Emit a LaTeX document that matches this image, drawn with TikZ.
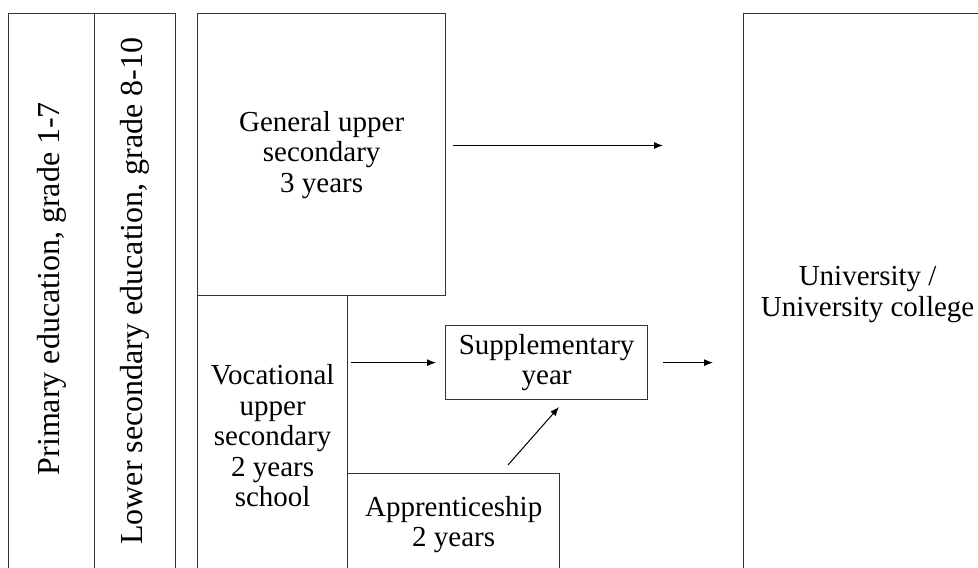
\documentclass[tikz,border=0pt]{standalone}
\usepackage{fontspec}
\setmainfont{Liberation Serif}
\usetikzlibrary{arrows.meta}
\tikzset{
  box/.style={draw=black!80, line width=1.3pt, rectangle, inner sep=0pt, anchor=north west, align=center,
    font=\fontsize{29}{30.5}\selectfont, text=black},
  rottext/.style={rotate=90, font=\fontsize{32}{34}\selectfont, text=black},
  conn/.style={draw=black, line width=1pt, -{Latex[length=9pt,width=7pt]}},
}
\begin{document}
\begin{tikzpicture}[x=1pt,y=-1pt]
\useasboundingbox (0,0) rectangle (978,568);
\clip (0,0) rectangle (978,568);
\fill[white] (0,0) rectangle (978,568);
% left columns
\node[box, minimum width=86pt, minimum height=562pt] (prim) at (8,13) {};
\node[rottext] (primt) at ([yshift=6pt]prim.center) {Primary education, grade 1-7};
\node[box, minimum width=81pt, minimum height=562pt] (low) at (94,13) {};
\node[rottext] (lowt) at ([yshift=3.5pt]low.center) {Lower secondary education, grade 8-10};
% general
\node[box, minimum width=248pt, minimum height=282pt] (gen) at (197,13) {General upper\\secondary\\3 years};
% vocational
\node[box, minimum width=150pt, minimum height=280pt] (voc) at (197,295) {Vocational\\upper\\secondary\\2 years\\school};
% apprenticeship
\node[box, minimum width=212pt, minimum height=102pt] (app) at (347,473) {Apprenticeship\\2 years};
% supplementary
\node[box, minimum width=202pt, minimum height=74pt] (sup) at (445,325) {Supplementary\\year};
% university
\node[box, minimum width=248pt, minimum height=562pt] (uni) at (743,13) {University /\\University college};
% connectors
\coordinate (g0) at (453,145.5);
\coordinate (g1) at (663,145.5);
\draw[conn] (g0) -- (g1);
\draw[conn, shorten <=3pt, shorten >=9pt] (voc.east |- sup.west) -- (sup.west);
\draw[conn, shorten <=15pt, shorten >=30pt] (sup.east) -- (uni.west |- sup.east);
\coordinate (a0) at (508,465);
\coordinate (a1) at (559,407);
\draw[conn] (a0) -- (a1);
\end{tikzpicture}
\end{document}
